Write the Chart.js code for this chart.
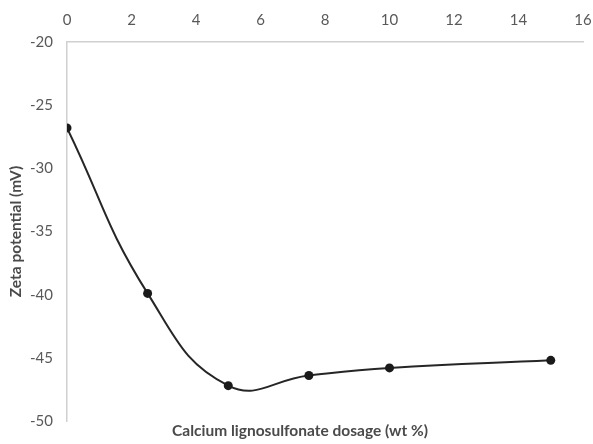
<!DOCTYPE html>
<html>
<head>
<meta charset="utf-8">
<script src="https://cdn.jsdelivr.net/npm/chart.js@4"></script>
<style>
  html, body { margin: 0; padding: 0; background: #fff; }
  #wrap { width: 593px; height: 444px; }
</style>
</head>
<body>
<div id="wrap"><canvas id="zetaChart"></canvas></div>
<script>
// dosage (wt %) and measured zeta potential (mV)
var dosage = [0, 2.5, 5, 7.5, 10, 15];
var zeta = [-26.8, -39.9, -47.2, -46.4, -45.8, -45.2];
var xTicks = [0, 2, 4, 6, 8, 10, 12, 14, 16];
var yTicks = [-20, -25, -30, -35, -40, -45, -50];

var axisGrey = '#d0d0d0';
var labelGrey = '#595959';
var fontFamily = "Lato, 'Open Sans', sans-serif";

var points = dosage.map(function(d, i) { return { x: d, y: zeta[i] }; });

var ctx = document.getElementById('zetaChart').getContext('2d');
var zetaChart = new Chart(ctx, {
    type: 'line',
    data: {
        datasets: [{
            data: points,
            borderColor: '#262626',
            borderWidth: 2,
            backgroundColor: '#1a1a1a',
            pointRadius: 4.5,
            pointBorderWidth: 0,
            tension: 0.45,
            fill: false
        }]
    },
    options: {
        responsive: true,
        maintainAspectRatio: false,
        animation: false,
        layout: { padding: { left: 7, right: 0, top: 0, bottom: 3 } },
        plugins: {
            legend: { display: false },
            tooltip: { enabled: false },
            title: {
                display: true,
                position: 'bottom',
                text: 'Calcium lignosulfonate dosage (wt %)',
                color: '#4a4a4a',
                font: { family: fontFamily, size: 15.5, weight: 'bold' },
                padding: { top: 1, bottom: 0 }
            }
        },
        scales: {
            x: {
                type: 'linear',
                position: 'top',
                min: xTicks[0],
                max: xTicks[xTicks.length - 1],
                afterBuildTicks: function(axis) {
                    axis.ticks = xTicks.map(function(v) { return { value: v }; });
                },
                afterFit: function(axis) {
                    axis.paddingRight = 10;
                    axis.height = 42;
                },
                grid: { display: false, drawTicks: false },
                border: { display: true, color: axisGrey, width: 1.5 },
                ticks: {
                    color: labelGrey,
                    padding: 13,
                    font: { family: fontFamily, size: 15 }
                }
            },
            y: {
                type: 'linear',
                min: -50,
                max: -20,
                afterBuildTicks: function(axis) {
                    axis.ticks = yTicks.map(function(v) { return { value: v }; });
                },
                afterFit: function(axis) {
                    axis.width = 60;
                },
                grid: { display: false, drawTicks: false },
                border: { display: true, color: axisGrey, width: 1.5 },
                ticks: {
                    color: labelGrey,
                    padding: 14,
                    font: { family: fontFamily, size: 15 }
                },
                title: {
                    display: true,
                    text: 'Zeta potential (mV)',
                    color: '#4a4a4a',
                    font: { family: fontFamily, size: 15.5, weight: 'bold' },
                    padding: { top: 0, bottom: 6 }
                }
            }
        }
    }
});
</script>
</body>
</html>
